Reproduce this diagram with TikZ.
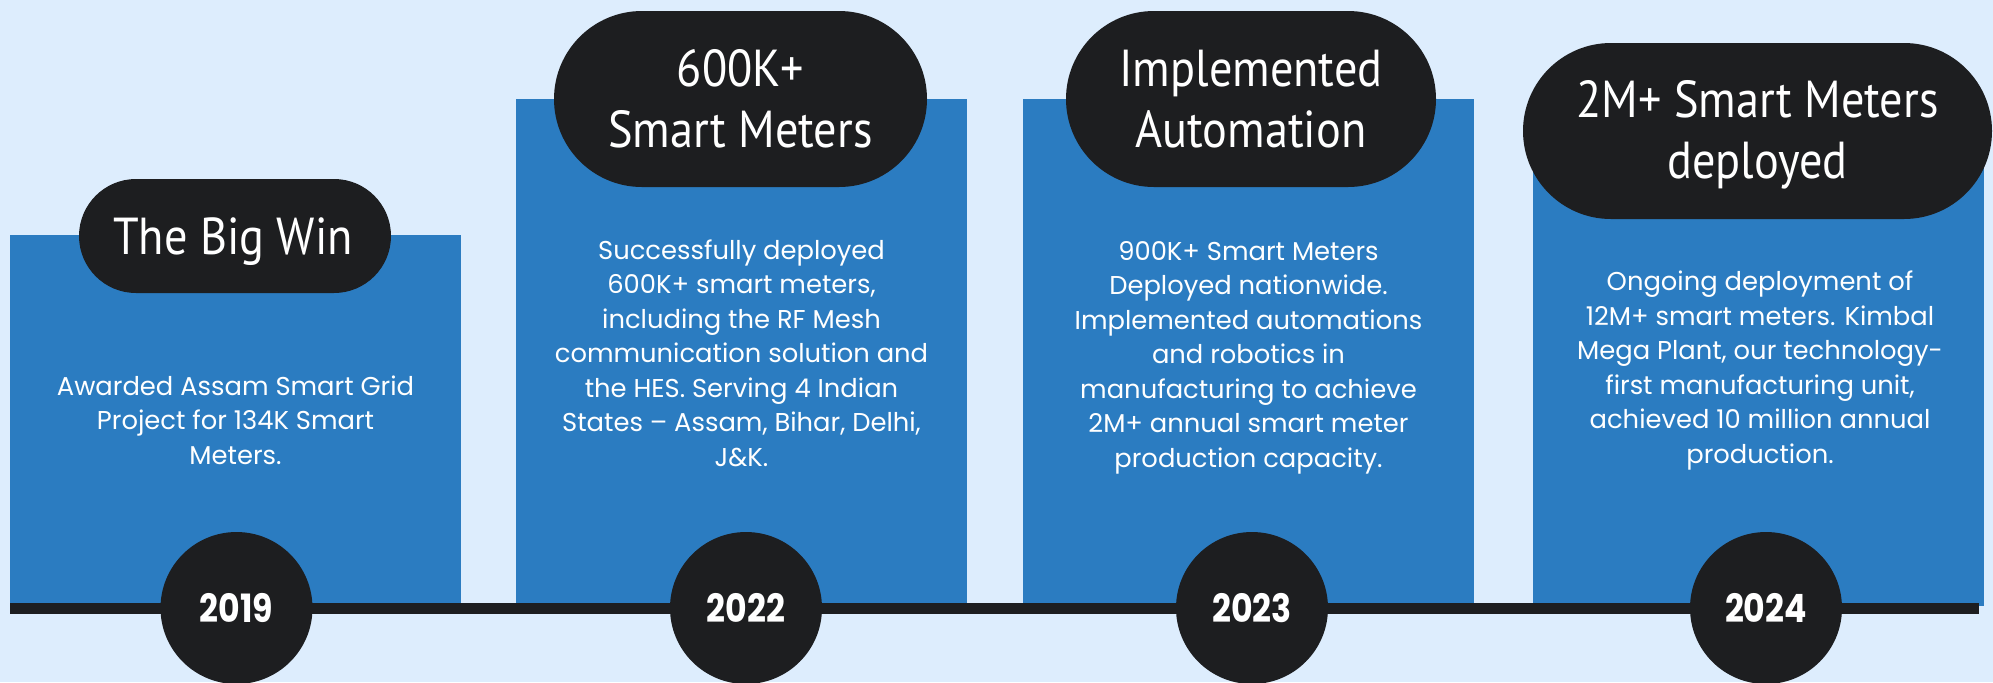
\documentclass[tikz,border=0pt]{standalone}
\usepackage{fontspec}
\setmainfont{Poppins}
\newfontfamily\titlefont[FakeStretch=0.89]{PT Sans}
\newfontfamily\yearfont[FakeStretch=0.85]{Poppins}
\definecolor{bg}{HTML}{DDEDFD}
\definecolor{panel}{HTML}{2B7CC1}
\definecolor{ink}{HTML}{1D1E20}
\tikzset{
  panelbox/.style={fill=panel, draw=none, inner sep=0pt, outer sep=0pt, minimum width=225.5pt},
  pill/.style={fill=ink, draw=none, inner sep=0pt, outer sep=0pt},
  yearnode/.style={circle, fill=ink, draw=none, inner sep=0pt, minimum size=76pt, text=white,
    font=\yearfont\bfseries\fontsize{19.5}{24}\selectfont},
  titletext/.style={anchor=base, align=center, text=white, inner sep=0pt,
    font=\titlefont\fontsize{26}{30.5}\selectfont},
  bodytext/.style={anchor=base, align=center, text=white, inner sep=0pt,
    font=\fontsize{12.9}{17.25}\selectfont},
}
\begin{document}
\begin{tikzpicture}[x=0.5pt,y=-0.5pt]
\useasboundingbox (0,0) rectangle (1993,682);
\fill[bg] (0,0) rectangle (1993,682);
% panels
\node[panelbox, minimum height=185.5pt] (p1) at (235.5,420.5) {};
\node[panelbox, minimum height=253.5pt] (p2) at (741.5,352.5) {};
\node[panelbox, minimum height=253.5pt] (p3) at (1248.5,352.5) {};
\node[panelbox, minimum height=253.5pt] (p4) at (1758.5,352.5) {};
% timeline
\coordinate (l0) at (10,608.5);
\coordinate (l1) at (1979,608.5);
\draw[ink, line width=5.5pt] (l0) -- (l1);
% pills
\node[pill, minimum width=156pt, minimum height=57pt, rounded corners=28.5pt] (h1) at (235,236) {};
\node[pill, minimum width=186.5pt, minimum height=88pt, rounded corners=44pt] (h2) at (740.5,99) {};
\node[pill, minimum width=185pt, minimum height=88pt, rounded corners=44pt] (h3) at (1251,99) {};
\node[pill, minimum width=234.5pt, minimum height=88pt, rounded corners=44pt] (h4) at (1757.5,131) {};
% titles (anchor = baseline of last line)
\node[titletext] (t1) at (233,254) {The Big Win};
\node[titletext] (t2) at (740.5,147) {600K+\\Smart Meters};
\node[titletext] (t3) at (1251,147) {Implemented\\Automation};
\node[titletext] (t4) at (1757.5,178) {2M+ Smart Meters\\deployed};
% body texts (anchor = baseline of last line)
\node[bodytext] (b1) at (235.5,464) {Awarded Assam Smart Grid\\Project for 134K Smart\\Meters.};
\node[bodytext] (b2) at (741.5,466) {Successfully deployed\\600K+ smart meters,\\including the RF Mesh\\communication solution and\\the HES. Serving 4 Indian\\States – Assam, Bihar, Delhi,\\J\&K.};
\node[bodytext] (b3) at (1248.5,467) {900K+ Smart Meters\\Deployed nationwide.\\Implemented automations\\and robotics in\\manufacturing to achieve\\2M+ annual smart meter\\production capacity.};
\node[bodytext] (b4) at (1760,463) {Ongoing deployment of\\12M+ smart meters. Kimbal\\Mega Plant, our technology-\\first manufacturing unit,\\achieved 10 million annual\\production.};
% years
\node[yearnode] (y1) at (236.5,608) {2019};
\node[yearnode] (y2) at (746,608) {2022};
\node[yearnode] (y3) at (1252,608) {2023};
\node[yearnode] (y4) at (1766,608) {2024};
\end{tikzpicture}
\end{document}
